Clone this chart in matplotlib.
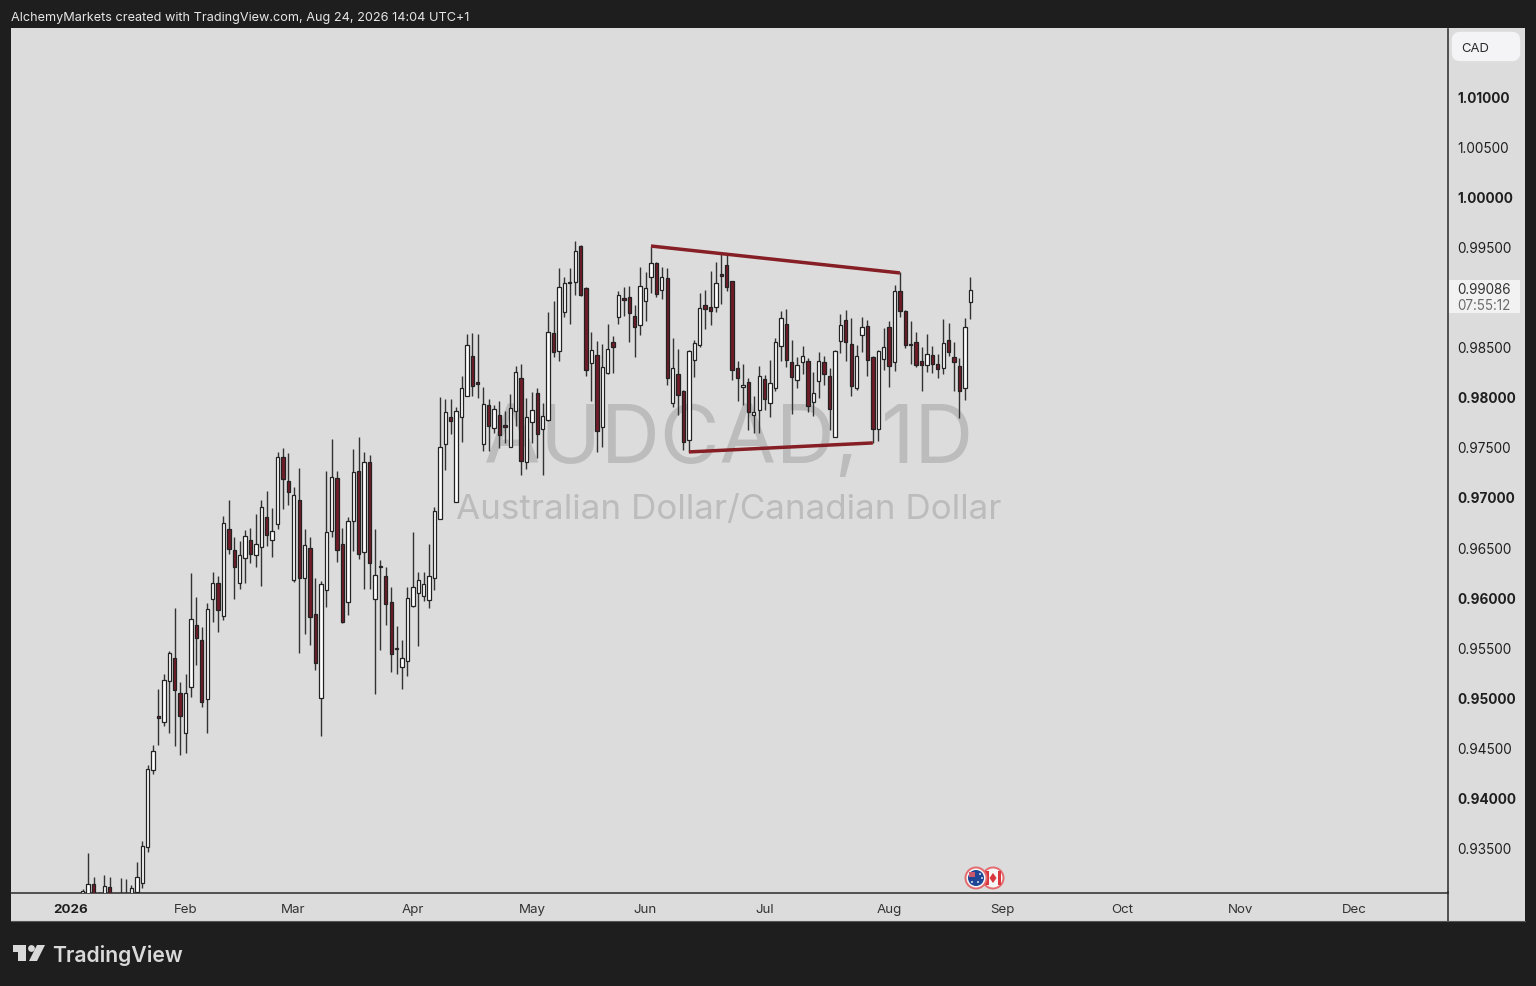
import matplotlib
matplotlib.use('Agg')
import matplotlib.pyplot as plt
from matplotlib.patches import Rectangle, FancyBboxPatch, Circle, Polygon
from matplotlib.transforms import Affine2D

plt.rcParams['font.family'] = ['Inter', 'DejaVu Sans']

# daily AUDCAD bars, first ones run below the visible price range
opens = [
    0.93000, 0.93000, 0.93149, 0.93050, 0.93000, 0.93122, 0.93000, 0.92960, 0.93000, 0.93010,
    0.93072, 0.93155, 0.93522, 0.94291, 0.94830, 0.94770, 0.95180, 0.95406, 0.95053, 0.94654,
    0.95113, 0.95736, 0.95586, 0.94993, 0.95996, 0.96152, 0.95829, 0.96695, 0.96485, 0.96152,
    0.96402, 0.96585, 0.96435, 0.96512, 0.96812, 0.96582, 0.96748, 0.97414, 0.97171, 0.96186,
    0.96985, 0.96209, 0.96502, 0.95842, 0.95010, 0.96089, 0.96672, 0.97208, 0.96542, 0.95969,
    0.96775, 0.97274, 0.96462, 0.97361, 0.95999, 0.96325, 0.96222, 0.95969, 0.95509, 0.95316,
    0.95373, 0.95922, 0.96056, 0.96029, 0.95989, 0.96209, 0.96795, 0.97541, 0.97810, 0.96965,
    0.97810, 0.98027, 0.98423, 0.98167, 0.97541, 0.97934, 0.97701, 0.97837, 0.97734, 0.97511,
    0.97874, 0.98200, 0.97361, 0.97767, 0.98054, 0.97691, 0.97781, 0.98650, 0.98470, 0.98859,
    0.99166, 0.99166, 0.99525, 0.99103, 0.98350, 0.98433, 0.97714, 0.98250, 0.98563, 0.98816,
    0.98999, 0.99009, 0.98823, 0.98730, 0.98969, 0.99209, 0.99352, 0.99086, 0.99202, 0.97950,
    0.98243, 0.98070, 0.97584, 0.98380, 0.98536, 0.98933, 0.98913, 0.98909, 0.99239, 0.99332,
    0.99173, 0.98300, 0.98110, 0.98160, 0.97831, 0.97880, 0.98193, 0.97957, 0.98100, 0.98520,
    0.98740, 0.98363, 0.98187, 0.98363, 0.98377, 0.97960, 0.98170, 0.98363, 0.98223, 0.97617,
    0.98570, 0.98786, 0.98540, 0.98100, 0.98633, 0.98723, 0.98417, 0.97697, 0.98397, 0.98710,
    0.98367, 0.99069, 0.98876, 0.98540, 0.98560, 0.98373, 0.98337, 0.98430, 0.98347, 0.98300,
    0.98586, 0.98417, 0.98320, 0.98100, 0.98959,
]
highs = [
    0.93095, 0.93455, 0.93222, 0.93072, 0.93239, 0.93222, 0.93040, 0.93205, 0.93202, 0.93139,
    0.93372, 0.93582, 0.94337, 0.94537, 0.95097, 0.95247, 0.95480, 0.95906, 0.95170, 0.95243,
    0.96252, 0.96012, 0.95719, 0.95952, 0.96269, 0.96226, 0.96825, 0.96985, 0.96612, 0.96575,
    0.96685, 0.96708, 0.96842, 0.96985, 0.97075, 0.96902, 0.97468, 0.97501, 0.97451, 0.97118,
    0.97308, 0.96692, 0.96618, 0.96209, 0.96179, 0.97274, 0.97597, 0.97274, 0.96702, 0.96818,
    0.97491, 0.97617, 0.97464, 0.97431, 0.96692, 0.96385, 0.96319, 0.96119, 0.95726, 0.95586,
    0.96119, 0.96665, 0.96269, 0.96269, 0.96545, 0.96918, 0.98017, 0.97990, 0.97990, 0.97917,
    0.98223, 0.98643, 0.98650, 0.98643, 0.98117, 0.97990, 0.97934, 0.97974, 0.97877, 0.98044,
    0.98323, 0.98343, 0.98000, 0.98060, 0.98100, 0.97950, 0.98866, 0.98973, 0.99306, 0.99216,
    0.99299, 0.99575, 0.99532, 0.99109, 0.98663, 0.98576, 0.98540, 0.98740, 0.98623, 0.99076,
    0.99116, 0.99123, 0.98933, 0.99316, 0.99262, 0.99515, 0.99366, 0.99309, 0.99299, 0.98600,
    0.98493, 0.98080, 0.98483, 0.98583, 0.99049, 0.99083, 0.99269, 0.99359, 0.99449, 0.99449,
    0.99176, 0.98373, 0.98340, 0.98200, 0.98027, 0.98323, 0.98233, 0.98380, 0.98600, 0.98876,
    0.98889, 0.98583, 0.98417, 0.98523, 0.98407, 0.98267, 0.98467, 0.98423, 0.98300, 0.98483,
    0.98843, 0.98883, 0.98800, 0.98533, 0.98810, 0.98783, 0.98423, 0.98483, 0.98700, 0.98776,
    0.99133, 0.99259, 0.98883, 0.98776, 0.98666, 0.98516, 0.98643, 0.98523, 0.98443, 0.98793,
    0.98750, 0.98560, 0.98400, 0.98800, 0.99216,
]
lows = [
    0.92950, 0.92950, 0.92950, 0.92920, 0.92950, 0.92950, 0.92850, 0.92900, 0.92880, 0.92960,
    0.93062, 0.93105, 0.93465, 0.94248, 0.94537, 0.94730, 0.94660, 0.94527, 0.94437, 0.94461,
    0.95013, 0.95336, 0.94920, 0.94654, 0.95763, 0.95669, 0.95786, 0.96442, 0.95992, 0.96096,
    0.96159, 0.96359, 0.96319, 0.96122, 0.96525, 0.96419, 0.96692, 0.96892, 0.96938, 0.96162,
    0.95453, 0.95646, 0.95536, 0.95286, 0.94627, 0.95912, 0.96612, 0.96369, 0.95760, 0.95836,
    0.96478, 0.96395, 0.96092, 0.96092, 0.95043, 0.95486, 0.95736, 0.95270, 0.95243, 0.95093,
    0.95230, 0.95919, 0.95526, 0.95979, 0.95902, 0.96085, 0.96795, 0.97284, 0.97644, 0.96965,
    0.97567, 0.98027, 0.98027, 0.98000, 0.97477, 0.97477, 0.97657, 0.97507, 0.97551, 0.97511,
    0.97724, 0.97234, 0.97291, 0.97551, 0.97401, 0.97234, 0.97777, 0.98410, 0.98377, 0.98810,
    0.98743, 0.99033, 0.99026, 0.98227, 0.97974, 0.97461, 0.97517, 0.98243, 0.98250, 0.98743,
    0.98823, 0.98560, 0.98417, 0.98633, 0.98776, 0.99049, 0.99016, 0.98993, 0.98134, 0.97910,
    0.97834, 0.97484, 0.97468, 0.98210, 0.98516, 0.98696, 0.98733, 0.98866, 0.98943, 0.99076,
    0.98183, 0.97974, 0.97934, 0.97684, 0.97651, 0.97657, 0.97884, 0.97817, 0.98077, 0.98373,
    0.98317, 0.97844, 0.98107, 0.98243, 0.97867, 0.97827, 0.98007, 0.98134, 0.97684, 0.97611,
    0.98450, 0.98373, 0.98024, 0.98084, 0.98460, 0.98227, 0.97551, 0.97574, 0.98280, 0.98110,
    0.98277, 0.98810, 0.98500, 0.98343, 0.98310, 0.98077, 0.98267, 0.98257, 0.98200, 0.98243,
    0.98427, 0.98077, 0.97801, 0.97984, 0.98790,
]
closes = [
    0.93079, 0.93145, 0.93000, 0.92980, 0.93129, 0.93000, 0.92900, 0.93050, 0.92920, 0.93105,
    0.93215, 0.93525, 0.94297, 0.94477, 0.94810, 0.95187, 0.95460, 0.95087, 0.94830, 0.95053,
    0.95793, 0.95610, 0.94970, 0.95896, 0.96159, 0.95883, 0.96752, 0.96495, 0.96319, 0.96432,
    0.96622, 0.96445, 0.96545, 0.96918, 0.96635, 0.96672, 0.97411, 0.97198, 0.97068, 0.97031,
    0.96209, 0.96532, 0.95819, 0.95360, 0.96142, 0.96662, 0.97211, 0.96485, 0.95769, 0.96775,
    0.97261, 0.96448, 0.97364, 0.96359, 0.96232, 0.96315, 0.95942, 0.95446, 0.95496, 0.95410,
    0.96006, 0.96115, 0.96189, 0.96142, 0.96222, 0.96871, 0.97517, 0.97860, 0.97774, 0.97870,
    0.98100, 0.98533, 0.98127, 0.98140, 0.97940, 0.97724, 0.97890, 0.97634, 0.97711, 0.97907,
    0.98260, 0.97371, 0.97810, 0.97884, 0.97641, 0.97827, 0.98660, 0.98467, 0.99109, 0.99149,
    0.99149, 0.99472, 0.99036, 0.98283, 0.98480, 0.97674, 0.98310, 0.98490, 0.98516, 0.99036,
    0.98986, 0.98849, 0.98716, 0.99123, 0.99099, 0.99356, 0.99043, 0.99209, 0.98200, 0.98300,
    0.98030, 0.97561, 0.98473, 0.98553, 0.98906, 0.98893, 0.98869, 0.99156, 0.99222, 0.99116,
    0.98280, 0.98207, 0.98134, 0.97867, 0.97860, 0.98223, 0.97994, 0.98150, 0.98563, 0.98806,
    0.98383, 0.98217, 0.98330, 0.98420, 0.97927, 0.98057, 0.98373, 0.98247, 0.97894, 0.98473,
    0.98730, 0.98560, 0.98127, 0.98423, 0.98713, 0.98387, 0.97694, 0.98473, 0.98516, 0.98323,
    0.99069, 0.98876, 0.98533, 0.98533, 0.98330, 0.98337, 0.98443, 0.98340, 0.98293, 0.98550,
    0.98467, 0.98367, 0.98074, 0.98710, 0.99086,
]

# bar numbers where each month label sits
month_bars = [-2.2, 19, 38.9, 61, 83, 103.9, 126, 149, 170, 192, 214, 235]
month_labels = ['2026', 'Feb', 'Mar', 'Apr', 'May', 'Jun', 'Jul', 'Aug', 'Sep', 'Oct', 'Nov', 'Dec']

price_ticks = [1.01, 1.005, 1.0, 0.995, 0.985, 0.98, 0.975, 0.97, 0.965, 0.96, 0.955, 0.95, 0.945, 0.94, 0.935]
bold_ticks = [1.01, 1.0, 0.98, 0.97, 0.96, 0.95, 0.94]

# hand drawn trend lines (bar number, price)
upper_bars = [105, 151]
upper_prices = [0.99522, 0.99253]
lower_bars = [112, 146]
lower_prices = [0.97465, 0.97555]

BG = '#dcdcdc'
DARK = '#1e1e1e'
RED = '#701c27'
LINE_RED = '#861f25'
INK = '#1f1f1f'

fig = plt.figure(figsize=(15.36, 9.87), dpi=100, facecolor=DARK)
px = Affine2D().scale(1 / 1536, -1 / 987).translate(0, 1) + fig.transFigure

fig.patches.append(Rectangle((11, 29), 1514, 893, transform=px, facecolor=BG, edgecolor='none', zorder=-1))

ax = fig.add_axes([11 / 1536, (987 - 893.7) / 987, 1437 / 1536, 863.7 / 987], facecolor=BG)
ax.set_xlim(-13.25, 252.27)
ax.set_ylim(0.93062, 1.0169)

for s in ['top', 'left']:
    ax.spines[s].set_visible(False)
for s in ['right', 'bottom']:
    ax.spines[s].set_color('#2a2a2a')
    ax.spines[s].set_linewidth(1.1)

# watermark goes behind the candles
ax.text(729, 442, 'AUDCAD, 1D', transform=px, ha='center', va='center', fontsize=58.8, color='#bcbcbc', zorder=0)
ax.text(729, 510, 'Australian Dollar/Canadian Dollar', transform=px, ha='center', va='center',
        fontsize=25.2, color='#bcbcbc', zorder=0)

# candles
bars = list(range(len(opens)))
ax.vlines(bars, lows, highs, color='#333333', linewidth=1.0, zorder=2)
for i in bars:
    up = closes[i] >= opens[i]
    ax.bar(i, abs(closes[i] - opens[i]), bottom=min(opens[i], closes[i]), width=0.62,
           facecolor='white' if up else RED, edgecolor='#222222', linewidth=0.9, zorder=3)

ax.plot(upper_bars, upper_prices, color=LINE_RED, linewidth=2.5, solid_capstyle='butt', zorder=4)
ax.plot(lower_bars, lower_prices, color=LINE_RED, linewidth=2.5, solid_capstyle='butt', zorder=4)

# price axis
ax.yaxis.tick_right()
ax.set_yticks(price_ticks)
ax.set_yticklabels(['%.5f' % p for p in price_ticks])
ax.tick_params(axis='y', length=0, pad=7, labelsize=9.8, labelcolor=INK)
for lab, p in zip(ax.get_yticklabels(), price_ticks):
    lab.set_verticalalignment('center')
    if p in bold_ticks:
        lab.set_fontweight('bold')

# time axis
ax.set_xticks(month_bars)
ax.set_xticklabels(month_labels)
ax.tick_params(axis='x', length=0, pad=7.5, labelsize=9.6, labelcolor='#333333')
ax.get_xticklabels()[0].set_fontweight('bold')
ax.get_xticklabels()[0].set_color(INK)

# the axis line carries on through the time scale
fig.add_artist(plt.Line2D([1448, 1448], [893, 922], transform=px, color='#2a2a2a', linewidth=1.1))
fig.add_artist(plt.Line2D([11, 1525], [922, 922], transform=px, color='#555555', linewidth=0.8))

# header and logo
fig.text(11, 18, 'AlchemyMarkets created with TradingView.com, Aug 24, 2026 14:04 UTC+1', transform=px,
         fontsize=9.15, color='#e6e6e6', ha='left', va='center')
fig.text(52, 955.5, 'TradingView', transform=px, fontsize=15.3, fontweight='semibold', color='#d9d9d9',
         ha='left', va='center')
logo = '#d9d9d9'
fig.add_artist(Polygon([(13, 946), (26, 946), (26, 962), (18, 962), (18, 953), (13, 953)], transform=px,
                       facecolor=logo, edgecolor='none'))
fig.add_artist(Circle((31.5, 949.5), 3.4, transform=px, facecolor=logo, edgecolor='none'))
fig.add_artist(Polygon([(37, 946), (45, 946), (37, 962), (29, 962)], transform=px, facecolor=logo, edgecolor='none'))

# currency button
fig.add_artist(FancyBboxPatch((1456, 37), 60, 21, boxstyle='round,pad=0,rounding_size=4', transform=px,
                              facecolor='#f4f4f6', edgecolor='#f4f4f6', linewidth=6, zorder=5))
fig.text(1461.5, 48.5, 'CAD', transform=px, fontsize=9.4, color='#2a2a2a', ha='left', va='center', zorder=6)

# last price tag
fig.add_artist(Rectangle((1449, 281), 71, 33, transform=px, facecolor='#f2f2f2', edgecolor='none', zorder=5))
fig.text(1457.5, 290.5, '0.99086', transform=px, fontsize=9.7, color='#333333', ha='left', va='center', zorder=6)
fig.text(1457.5, 306, '07:55:12', transform=px, fontsize=9.7, color='#6b6b6b', ha='left', va='center', zorder=6)

# currency flags on the time scale edge
ca_ring = Circle((993, 879), 10.5, transform=px, facecolor='#f6f6f6', edgecolor='#e56a6e', linewidth=1.4, zorder=6)
fig.add_artist(ca_ring)
fig.add_artist(Rectangle((985, 872), 3.5, 14, transform=px, facecolor='#d9363e', edgecolor='none', zorder=6))
fig.add_artist(Rectangle((997.5, 872), 3.5, 14, transform=px, facecolor='#d9363e', edgecolor='none', zorder=6))
fig.add_artist(Polygon([(993, 874), (996.5, 879), (993, 884), (989.5, 879)], transform=px,
                       facecolor='#d9363e', edgecolor='none', zorder=6))
fig.add_artist(Circle((976, 879), 10.5, transform=px, facecolor='#f6f6f6', edgecolor='#e56a6e', linewidth=1.4, zorder=7))
fig.add_artist(Circle((976, 879), 8, transform=px, facecolor='#1f4595', edgecolor='none', zorder=7))
fig.add_artist(Rectangle((969, 873), 6, 5, transform=px, facecolor='#c9566a', edgecolor='none', zorder=7))
for sx, sy in [(980, 875), (982, 879), (978, 883), (972, 883)]:
    fig.add_artist(Circle((sx, sy), 0.9, transform=px, facecolor='white', edgecolor='none', zorder=7))

fig.savefig('out.png', dpi=100, facecolor=DARK)
